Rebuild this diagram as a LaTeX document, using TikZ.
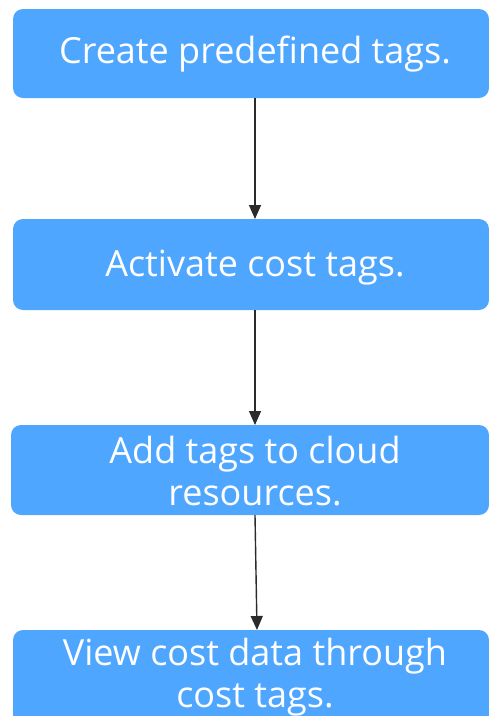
\documentclass[tikz,border=0pt]{standalone}
\usepackage{fontspec}
\setmainfont{Open Sans}
\usetikzlibrary{arrows.meta}
\definecolor{stepblue}{HTML}{4FA6FF}
\definecolor{linkgray}{HTML}{2B2B2B}
\begin{document}
\begin{tikzpicture}[x=1pt,y=-1pt,
  stepbox/.style={fill=stepblue, draw=none, rounded corners=10pt},
  steptext/.style={text=white, font=\fontsize{36}{42}\selectfont, align=center, inner sep=0pt},
  link/.style={draw=linkgray, line width=1.4pt, -{Triangle[length=14pt,width=12pt]}}]
  \useasboundingbox (0,0) rectangle (489,716);
  \clip (0,0) rectangle (489,716);
  % process steps
  \path[stepbox] (13,9) rectangle (489,98);
  \node[steptext] (s1) at (255,54) {Create predefined tags.};
  \coordinate (s1b) at (255,98);
  \coordinate (s2t) at (255,219);
  \path[stepbox] (13,219) rectangle (489,310);
  \node[steptext] (s2) at (255,268) {Activate cost tags.};
  \coordinate (s2b) at (255,310);
  \coordinate (s3t) at (255,425);
  \path[stepbox] (11,425) rectangle (489,515);
  \node[steptext] (s3) at (255,471) {Add tags to cloud\\resources.};
  \coordinate (s3b) at (255,515);
  \coordinate (s4t) at (257,630);
  \path[stepbox] (13,630) rectangle (489,740);
  \node[steptext] (s4) at (255,677) {View cost data through\\cost tags.};
  % connectors
  \draw[link] (s1b) -- (s2t);
  \draw[link] (s2b) -- (s3t);
  \draw[link] (s3b) -- (s4t);
\end{tikzpicture}
\end{document}
